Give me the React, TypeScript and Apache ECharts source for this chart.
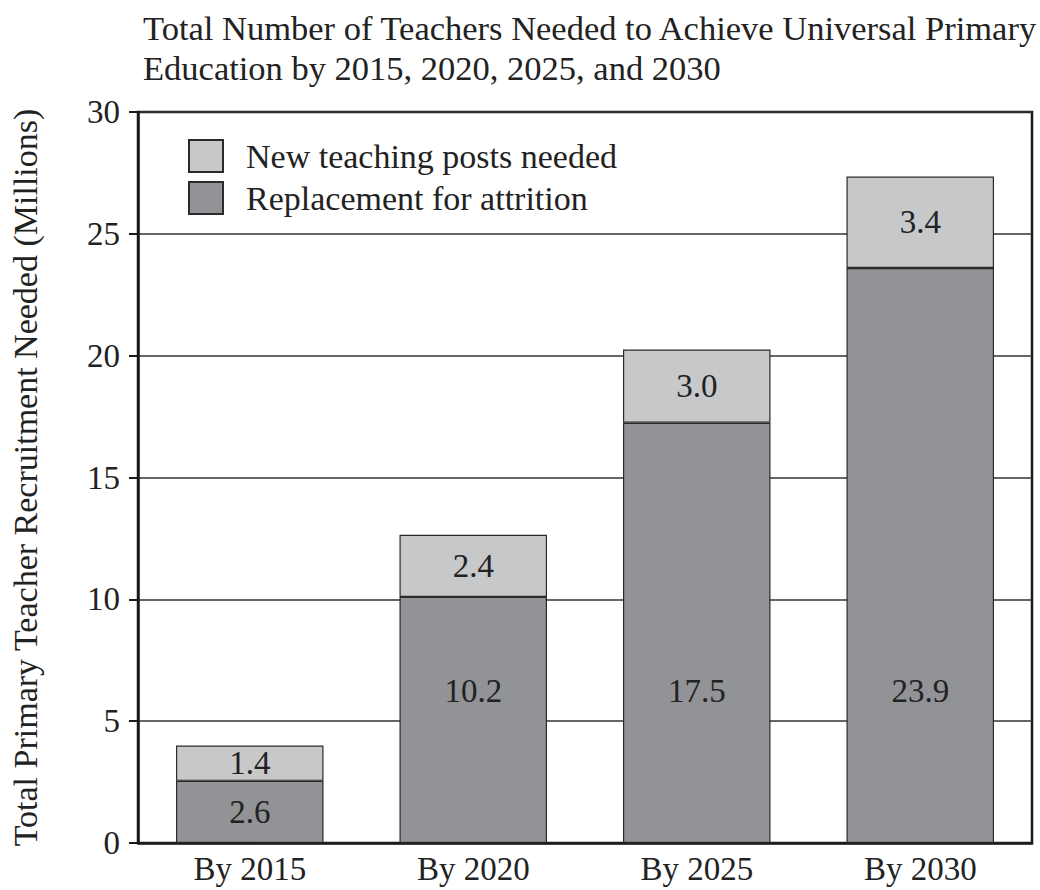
import React, { useEffect, useRef } from "react";
import * as echarts from "echarts";

const categories = ["By 2015", "By 2020", "By 2025", "By 2030"];
// bar heights as drawn in the picture (millions)
const replacementValues = [2.55, 10.1, 17.25, 23.6];
const newPostValues = [1.45, 2.55, 3.0, 3.75];
// values printed on the bars
const replacementLabels = ["2.6", "10.2", "17.5", "23.9"];
const newPostLabels = ["1.4", "2.4", "3.0", "3.4"];

const titleText =
  "Total Number of Teachers Needed to Achieve Universal Primary\nEducation by 2015, 2020, 2025, and 2030";
const yAxisName = "Total Primary Teacher Recruitment Needed (Millions)";

const FONT = "'Liberation Serif', 'Times New Roman', serif";
const DARK = "#929396";
const LIGHT = "#c7c8ca";
const INK = "#222";

export default function App() {
  const ref = useRef<HTMLDivElement>(null);
  useEffect(() => {
    document.body.style.margin = "0";
    const chart = echarts.init(ref.current!, null, { renderer: "svg" });
    const replacementData = replacementValues.map((v, i) => ({
      value: v,
      label:
        i === 0
          ? { position: "inside" as const }
          : { position: "insideBottom" as const, distance: 136 },
    }));
    chart.setOption({
      animation: false,
      backgroundColor: "#fff",
      textStyle: { fontFamily: FONT },
      title: {
        text: titleText,
        left: 143,
        top: 8,
        padding: 0,
        textStyle: {
          fontFamily: FONT,
          fontSize: 34.5,
          lineHeight: 40,
          fontWeight: "normal",
          color: INK,
        },
      },
      legend: {
        orient: "vertical",
        left: 188,
        top: 139,
        padding: 0,
        icon: "rect",
        itemWidth: 34,
        itemHeight: 32,
        itemGap: 8,
        data: ["New teaching posts needed", "Replacement for attrition"],
        itemStyle: { borderColor: "#2a2a2a", borderWidth: 2 },
        textStyle: {
          fontFamily: FONT,
          fontSize: 34,
          lineHeight: 34,
          color: INK,
          padding: [0, 0, 0, 18],
        },
      },
      grid: {
        left: 138,
        right: 8,
        top: 112,
        bottom: 47,
        show: true,
        borderColor: "#1a1a1a",
        borderWidth: 2.5,
        backgroundColor: "transparent",
      },
      xAxis: {
        type: "category",
        data: categories,
        axisTick: { show: false },
        axisLine: { lineStyle: { color: "#1a1a1a", width: 2.5 } },
        axisLabel: {
          fontFamily: FONT,
          fontSize: 33,
          color: INK,
          margin: 9,
        },
      },
      yAxis: {
        type: "value",
        min: 0,
        max: 30,
        interval: 5,
        name: yAxisName,
        nameLocation: "middle",
        nameGap: 96,
        nameTextStyle: { fontFamily: FONT, fontSize: 34, color: INK },
        axisLine: { show: true, lineStyle: { color: "#1a1a1a", width: 2.5 } },
        axisTick: {
          show: true,
          inside: false,
          length: 9,
          lineStyle: { color: "#1a1a1a", width: 2 },
        },
        axisLabel: {
          fontFamily: FONT,
          fontSize: 33,
          color: INK,
          margin: 18,
        },
        splitLine: { show: true, lineStyle: { color: "#333", width: 1.5 } },
      },
      series: [
        {
          name: "Replacement for attrition",
          type: "bar",
          stack: "total",
          barWidth: "66%",
          data: replacementData,
          itemStyle: { color: DARK, borderColor: "#2a2a2a", borderWidth: 1.2 },
          label: {
            show: true,
            fontFamily: FONT,
            fontSize: 33,
            color: INK,
            formatter: (p: any) => replacementLabels[p.dataIndex],
          },
        },
        {
          name: "New teaching posts needed",
          type: "bar",
          stack: "total",
          barWidth: "66%",
          data: newPostValues,
          itemStyle: { color: LIGHT, borderColor: "#2a2a2a", borderWidth: 1.2 },
          label: {
            show: true,
            position: "inside",
            fontFamily: FONT,
            fontSize: 33,
            color: INK,
            formatter: (p: any) => newPostLabels[p.dataIndex],
          },
        },
      ],
    });
    return () => chart.dispose();
  }, []);
  return <div ref={ref} style={{ width: 1040, height: 890 }} />;
}
